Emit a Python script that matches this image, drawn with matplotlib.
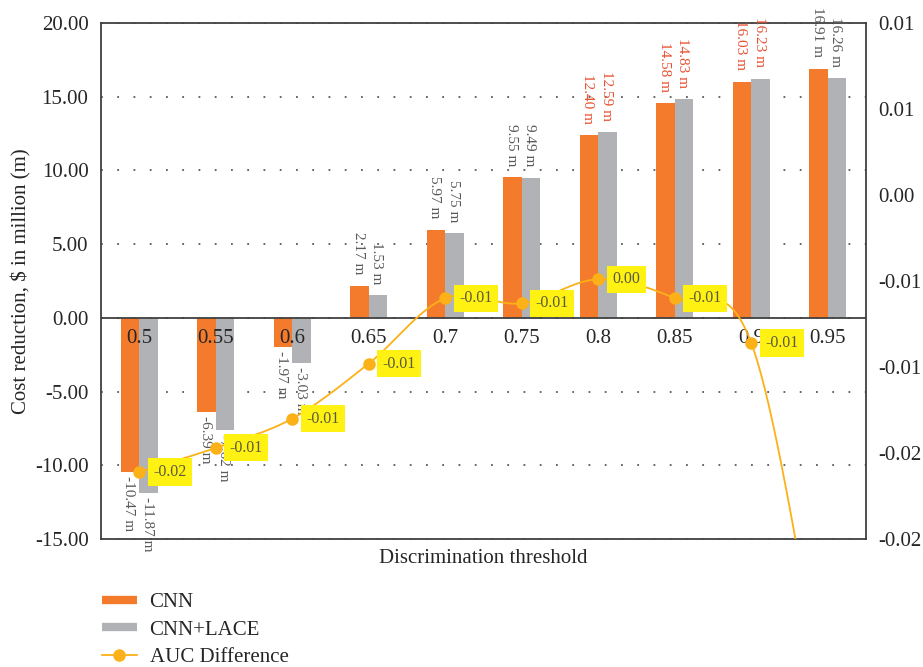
import numpy as np
import matplotlib
matplotlib.use("Agg")
import matplotlib.pyplot as plt
from matplotlib.lines import Line2D

plt.rcParams["font.family"] = ["Liberation Serif", "DejaVu Serif"]

thresholds = ["0.5", "0.55", "0.6", "0.65", "0.7", "0.75", "0.8", "0.85", "0.9", "0.95"]
cnn = [-10.47, -6.39, -1.97, 2.17, 5.97, 9.55, 12.40, 14.58, 16.03, 16.91]
cnn_lace = [-11.87, -7.62, -3.03, 1.53, 5.75, 9.49, 12.59, 14.83, 16.23, 16.26]
auc_diff = [-0.0161, -0.0147, -0.0130, -0.0098, -0.0060, -0.0063, -0.0049, -0.0060, -0.0086, -0.0300]
red_groups = ["0.8", "0.85", "0.9"]
right_tick_labels = ["-0.02", "-0.02", "-0.01", "-0.01", "0.00", "0.01", "0.01"]

ORANGE = "#F37B2B"
GRAY = "#B1B2B6"
YELLOW_LINE = "#FBB117"
LABEL_GRAY = "#595959"
LABEL_RED = "#E8502F"
DARK = "#404040"


def smooth_curve(xs, ys, sx, sy, n=40):
    # Catmull-Rom through the points, computed in (roughly) screen space
    px = np.asarray(xs, float) * sx
    py = np.asarray(ys, float) * sy
    pts = np.column_stack([px, py])
    ext = np.vstack([pts[0] - (pts[1] - pts[0]), pts, pts[-1] + (pts[-1] - pts[-2])])
    out = []
    for i in range(1, len(ext) - 2):
        p0, p1, p2, p3 = ext[i - 1], ext[i], ext[i + 1], ext[i + 2]
        m1 = (p2 - p0) / 2
        m2 = (p3 - p1) / 2
        t = np.linspace(0, 1, n)[:, None]
        h00 = 2 * t**3 - 3 * t**2 + 1
        h10 = t**3 - 2 * t**2 + t
        h01 = -2 * t**3 + 3 * t**2
        h11 = t**3 - t**2
        out.append(h00 * p1 + h10 * m1 + h01 * p2 + h11 * m2)
    out = np.vstack(out)
    return out[:, 0] / sx, out[:, 1] / sy


fig = plt.figure(figsize=(9.23, 6.67), dpi=100)
ax = fig.add_axes([101 / 923, 1 - 539 / 667, 765 / 923, 516 / 667])

x = np.arange(len(thresholds))
w = 0.24
b1 = ax.bar(x - w / 2, cnn, w, color=ORANGE, zorder=2)
b2 = ax.bar(x + w / 2, cnn_lace, w, color=GRAY, zorder=2)

for bars, vals in ((b1, cnn), (b2, cnn_lace)):
    for i, (rect, v) in enumerate(zip(bars, vals)):
        col = LABEL_RED if thresholds[i] in red_groups else LABEL_GRAY
        cx = rect.get_x() + rect.get_width() / 2
        if v >= 0:
            ax.annotate(f"{v:.2f} m", (cx, v), xytext=(-1, 8), textcoords="offset points",
                        rotation=270, ha="center", va="bottom", fontsize=11, color=col, zorder=5)
        else:
            ax.annotate(f"{v:.2f} m", (cx, v), xytext=(-1, -3), textcoords="offset points",
                        rotation=270, ha="center", va="top", fontsize=11, color=col, zorder=5)

for i, t in enumerate(thresholds):
    ax.annotate(t, (i, 0), xytext=(0, -15), textcoords="offset points",
                ha="center", va="center", fontsize=15, color="#262626", zorder=4)

ax.axhline(0, color=DARK, lw=1.3, zorder=3)
ax.set_xlim(-0.5, len(thresholds) - 0.5)
ax.set_ylim(-15, 20)
ax.set_yticks(np.arange(-15, 21, 5))
ax.yaxis.set_major_formatter(matplotlib.ticker.FormatStrFormatter("%.2f"))
ax.set_xticks([])
ax.tick_params(axis="y", length=0, pad=9, labelsize=15, labelcolor="#262626")
ax.grid(axis="y", linestyle=(0, (1, 8)), color="#595959", lw=1.3)
ax.set_axisbelow(True)
for s in ax.spines.values():
    s.set_color(DARK)
    s.set_linewidth(1.3)
ax.set_ylabel("Cost reduction, $ in million (m)", fontsize=15, labelpad=2, color="#262626")
ax.set_xlabel("Discrimination threshold", fontsize=15, labelpad=7, color="#262626")

ax2 = ax.twinx()
ax2.set_ylim(-0.02, 0.01)
ax2.set_yticks(np.linspace(-0.02, 0.01, 7))
ax2.set_yticklabels(right_tick_labels)
ax2.tick_params(axis="y", length=0, pad=9, labelsize=15, labelcolor="#262626")
for s in ax2.spines.values():
    s.set_visible(False)

sx_, sy_ = 76.5, 516 / 0.03
cx_, cy_ = smooth_curve(x, auc_diff, sx_, sy_)
ax2.plot(cx_, cy_, color=YELLOW_LINE, lw=1.3, zorder=3)
ax2.plot(x, auc_diff, "o", color=YELLOW_LINE, ms=8, zorder=4)
for i, v in enumerate(auc_diff):
    lab = f"{v:.2f}"
    if lab == "-0.00":
        lab = "0.00"
    ax2.annotate(lab, (i, v), xytext=(10, 0), textcoords="offset points",
                 ha="left", va="center", fontsize=11.5, color="#5A5A3C", zorder=6,
                 bbox=dict(boxstyle="square,pad=0.35", fc="#FFF212", ec="none"))

handles = [
    Line2D([], [], color=ORANGE, lw=6, solid_capstyle="butt"),
    Line2D([], [], color=GRAY, lw=6, solid_capstyle="butt"),
    Line2D([], [], color=YELLOW_LINE, lw=1.3, marker="o", ms=8),
]
fig.legend(handles, ["CNN", "CNN+LACE", "AUC Difference"], loc="upper left",
           bbox_to_anchor=(87 / 923, 1 - 578 / 667), frameon=False, fontsize=15,
           handlelength=1.7, handletextpad=0.6, labelspacing=0.38, borderpad=0.2,
           labelcolor="#262626")

fig.savefig("out.png", dpi=100)
